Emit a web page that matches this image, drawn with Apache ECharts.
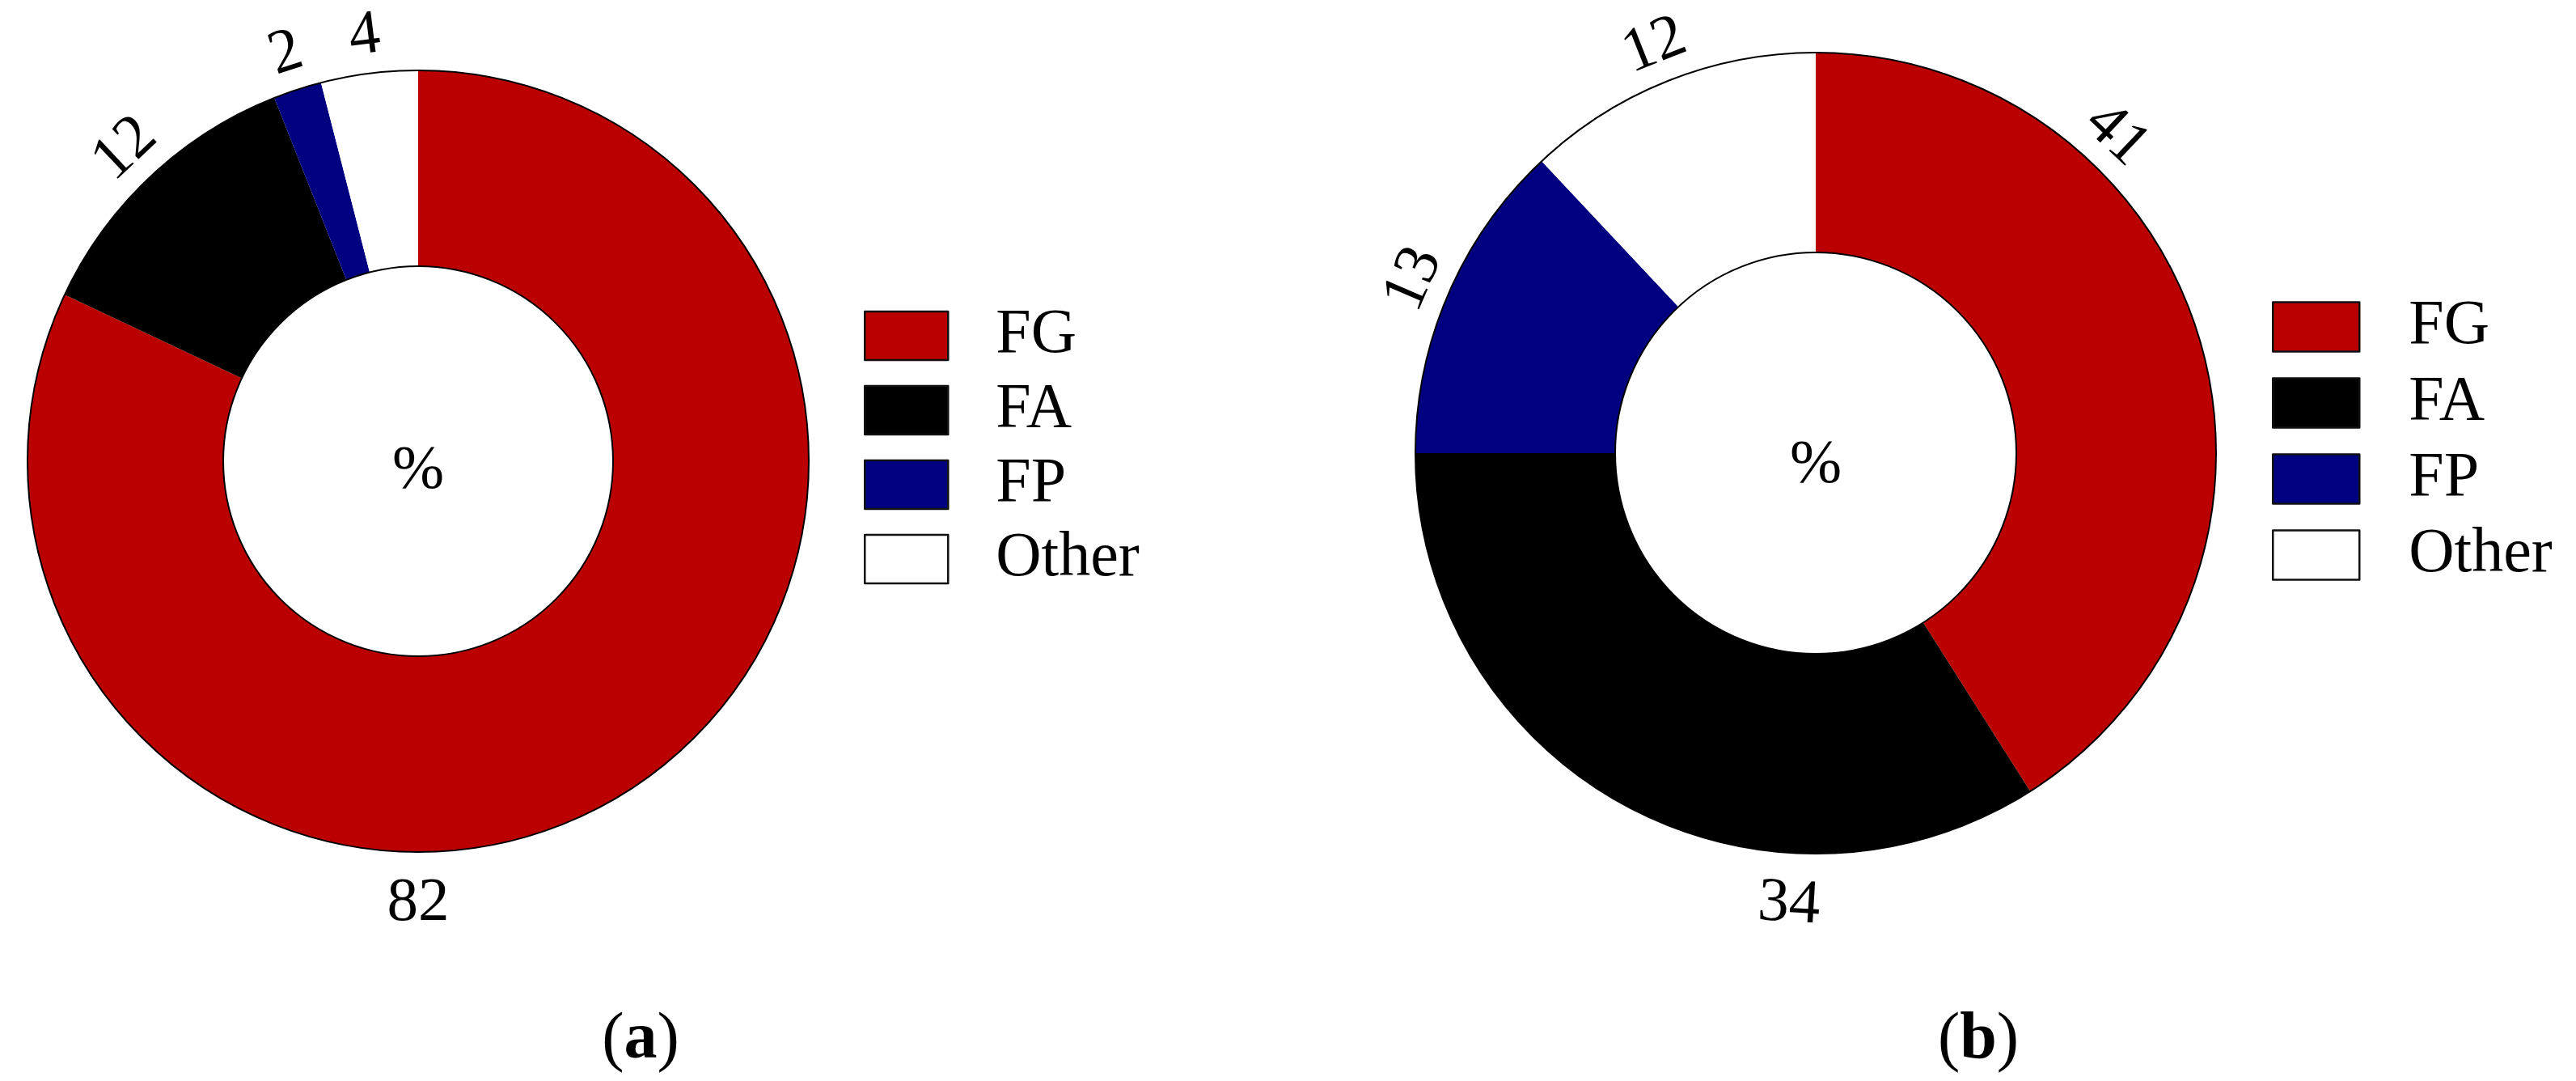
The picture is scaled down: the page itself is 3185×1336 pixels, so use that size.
<!DOCTYPE html>
<html>
<head>
<meta charset="utf-8">
<script src="https://cdn.jsdelivr.net/npm/echarts@6/dist/echarts.min.js"></script>
<style>
html,body{margin:0;padding:0;background:#fff;}
#c{width:3185px;height:1336px;}
</style>
</head>
<body>
<div id="c"></div>
<script>
// ---- data ----
const categories = ['FG', 'FA', 'FP', 'Other'];
const valuesA = [82, 12, 2, 4];
const valuesB = [41, 34, 13, 12];
const captions = ['a', 'b'];
const centerText = '%';

// ---- style / layout ----
const colors = ['#BA0000', '#000000', '#000080', '#FFFFFF'];
const FONT = '"Liberation Serif", "DejaVu Serif", serif';
const FS = 77;
const pieA = { cx: 517, cy: 570, r0: 241, r: 483, labelAngle: { 0: 180 }, pctY: 583, capX: 792 };
const pieB = { cx: 2245, cy: 560, r0: 248, r: 495, labelAngle: { 0: 43.4, 1: 183.4 }, pctY: 576, capX: 2446 };
const capY = 1286;

function makeLabelLayout(p, values) {
  const total = values.reduce((a, b) => a + b, 0);
  const mids = [];
  let acc = 0;
  values.forEach(v => { mids.push((acc + v / 2) / total * 360); acc += v; });
  return function (params) {
    const i = params.dataIndex;
    const th = p.labelAngle[i] != null ? p.labelAngle[i] : mids[i];
    const rad = th * Math.PI / 180;
    const d = p.r + 46 + 18 * Math.max(0, -Math.cos(rad));
    let rot = (th > 90 && th < 270) ? 180 - th : -th;
    if (rot < -180) rot += 360;
    return {
      x: p.cx + d * Math.sin(rad),
      y: p.cy - d * Math.cos(rad),
      rotate: rot,
      align: 'center',
      verticalAlign: 'middle'
    };
  };
}

function pieSeries(p, values) {
  return {
    type: 'pie',
    center: [p.cx, p.cy],
    radius: [p.r0, p.r],
    startAngle: 90,
    clockwise: true,
    avoidLabelOverlap: false,
    animation: false,
    data: categories.map((n, i) => ({ name: n, value: values[i], itemStyle: { color: colors[i] } })),
    itemStyle: { borderWidth: 0 },
    label: { show: true, position: 'outside', formatter: '{c}', fontFamily: FONT, fontSize: FS, color: '#000' },
    labelLine: { show: false },
    labelLayout: makeLabelLayout(p, values),
    emphasis: { disabled: true }
  };
}

function outlineSeries(p, values) {
  return {
    type: 'pie',
    center: [p.cx, p.cy],
    radius: [p.r0, p.r],
    silent: true,
    z: 3,
    animation: false,
    data: [{ name: '_ring', value: values.reduce((a, b) => a + b, 0) }],
    itemStyle: { color: 'rgba(0,0,0,0)', borderColor: '#000', borderWidth: 2 },
    label: { show: false },
    labelLine: { show: false },
    emphasis: { disabled: true }
  };
}

function legendFor(left, top, w, h, gap, pad) {
  return {
    orient: 'vertical', left: left, top: top, padding: 0,
    itemWidth: w, itemHeight: h, itemGap: gap,
    icon: 'rect', data: categories, selectedMode: false,
    itemStyle: { borderColor: '#111', borderWidth: 2.5 },
    textStyle: { fontFamily: FONT, fontSize: 78, color: '#000', padding: [0, 0, 0, pad] }
  };
}

function caption(p, letter) {
  return {
    type: 'text', x: p.capX, y: capY,
    style: {
      text: '{n|(}{b|' + letter + '}{n|)}',
      rich: {
        n: { fontFamily: FONT, fontSize: 82, fill: '#000' },
        b: { fontFamily: FONT, fontSize: 82, fontWeight: 'bold', fill: '#000' }
      },
      align: 'center', verticalAlign: 'middle'
    }
  };
}

function pctText(p) {
  return {
    type: 'text', x: p.cx, y: p.pctY, z: 10,
    style: { text: centerText, font: FS + 'px ' + FONT, fill: '#000', align: 'center', verticalAlign: 'middle' }
  };
}

const chart = echarts.init(document.getElementById('c'));
chart.setOption({
  backgroundColor: '#fff',
  animation: false,
  legend: [
    legendFor(1068, 376, 103, 60, 14, 54),
    legendFor(2809, 365, 107, 61, 16, 56)
  ],
  series: [
    pieSeries(pieA, valuesA),
    outlineSeries(pieA, valuesA),
    pieSeries(pieB, valuesB),
    outlineSeries(pieB, valuesB)
  ],
  graphic: [
    pctText(pieA), pctText(pieB),
    caption(pieA, captions[0]), caption(pieB, captions[1])
  ]
});
</script>
</body>
</html>
